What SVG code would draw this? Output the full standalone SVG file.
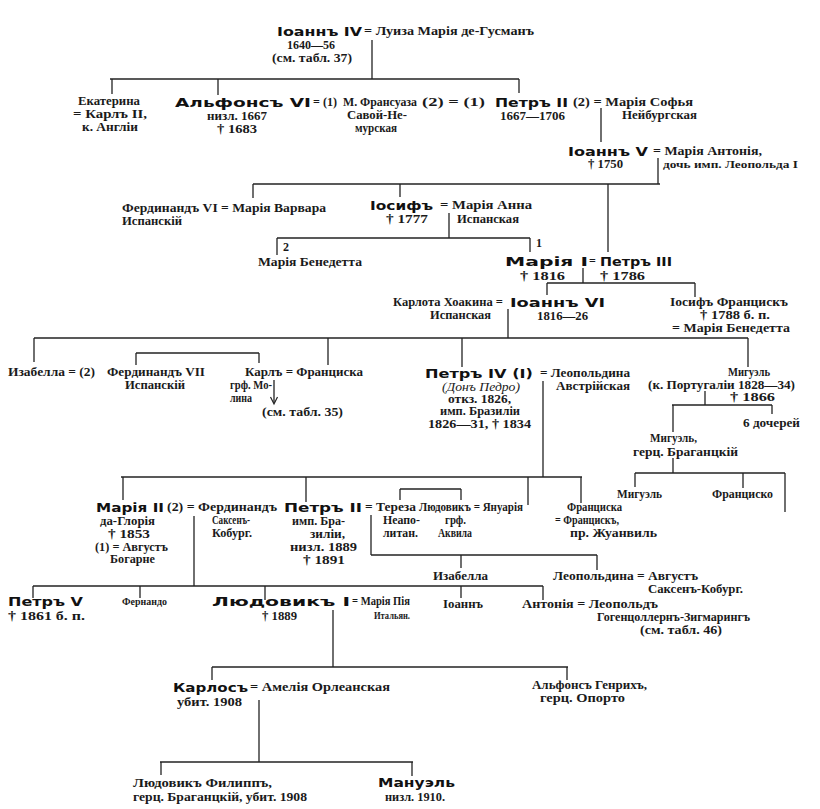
<svg xmlns="http://www.w3.org/2000/svg" width="820" height="809" viewBox="0 0 820 809">
<defs>
<style>
.s{font-family:"Liberation Serif","DejaVu Serif",serif;font-size:12px;font-weight:bold;fill:#1a1a1a}
.b{font-family:"DejaVu Sans","Liberation Sans",sans-serif;font-size:13px;font-weight:bold;fill:#111}
.sm{font-size:10.5px}
.i{font-style:italic;font-weight:normal}
#connectors line{stroke:#222;stroke-width:1.3;fill:none}
#connectors path{stroke:#222;stroke-width:1.2;fill:none}
</style>
</defs>
<rect width="820" height="809" fill="#fff"/>

<g id="connectors">
<line x1="372" y1="40" x2="372" y2="79"/>
<line x1="110" y1="79" x2="519" y2="79"/>
<line x1="112" y1="79" x2="112" y2="94"/>
<line x1="218" y1="79" x2="218" y2="95"/>
<line x1="519" y1="79" x2="519" y2="93"/>
<line x1="601" y1="108" x2="601" y2="142"/>
<line x1="658" y1="158" x2="658" y2="184"/>
<line x1="253" y1="184" x2="660" y2="184"/>
<line x1="253" y1="184" x2="253" y2="198"/>
<line x1="400" y1="184" x2="400" y2="197"/>
<line x1="608" y1="184" x2="608" y2="252"/>
<line x1="449" y1="213" x2="449" y2="238"/>
<line x1="277" y1="238" x2="530" y2="238"/>
<line x1="277" y1="238" x2="277" y2="255"/>
<line x1="530" y1="238" x2="530" y2="252"/>
<line x1="583" y1="268" x2="583" y2="283"/>
<line x1="547" y1="283" x2="695" y2="283"/>
<line x1="547" y1="283" x2="547" y2="295"/>
<line x1="695" y1="283" x2="695" y2="297"/>
<line x1="508" y1="309" x2="508" y2="338"/>
<line x1="34" y1="338" x2="748" y2="338"/>
<line x1="34" y1="338" x2="34" y2="362"/>
<line x1="328" y1="338" x2="328" y2="365"/>
<line x1="462" y1="338" x2="462" y2="367"/>
<line x1="748" y1="338" x2="748" y2="367"/>
<line x1="136" y1="353" x2="259" y2="353"/>
<line x1="136" y1="353" x2="136" y2="365"/>
<line x1="259" y1="353" x2="259" y2="363"/>
<line x1="274" y1="380" x2="274" y2="403"/>
<path d="M270.5,397 L274,404 L277.5,397"/>
<line x1="543" y1="381" x2="543" y2="477"/>
<line x1="705" y1="391" x2="705" y2="405"/>
<line x1="672" y1="405" x2="772" y2="405"/>
<line x1="673" y1="405" x2="673" y2="432"/>
<line x1="772" y1="405" x2="772" y2="414"/>
<line x1="673" y1="458" x2="673" y2="473"/>
<line x1="635" y1="473" x2="785" y2="473"/>
<line x1="635" y1="473" x2="635" y2="487"/>
<line x1="743" y1="473" x2="743" y2="488"/>
<line x1="785" y1="473" x2="785" y2="512"/>
<line x1="121" y1="477" x2="582" y2="477"/>
<line x1="123" y1="477" x2="123" y2="500"/>
<line x1="306" y1="477" x2="306" y2="502"/>
<line x1="528" y1="477" x2="528" y2="505"/>
<line x1="581" y1="477" x2="581" y2="503"/>
<line x1="400" y1="489" x2="461" y2="489"/>
<line x1="400" y1="489" x2="400" y2="500"/>
<line x1="461" y1="489" x2="461" y2="500"/>
<line x1="194" y1="516" x2="194" y2="586"/>
<line x1="371" y1="515" x2="371" y2="555"/>
<line x1="371" y1="555" x2="597" y2="555"/>
<line x1="461" y1="555" x2="461" y2="568"/>
<line x1="597" y1="555" x2="597" y2="570"/>
<line x1="33" y1="586" x2="543" y2="586"/>
<line x1="33" y1="586" x2="33" y2="598"/>
<line x1="140" y1="586" x2="140" y2="598"/>
<line x1="265" y1="586" x2="265" y2="600"/>
<line x1="461" y1="586" x2="461" y2="598"/>
<line x1="543" y1="586" x2="543" y2="600"/>
<line x1="333" y1="610" x2="333" y2="667"/>
<line x1="212" y1="667" x2="568" y2="667"/>
<line x1="212" y1="667" x2="212" y2="680"/>
<line x1="567" y1="667" x2="567" y2="680"/>
<line x1="259" y1="700" x2="259" y2="762"/>
<line x1="160" y1="762" x2="413" y2="762"/>
<line x1="161" y1="762" x2="161" y2="775"/>
<line x1="412" y1="762" x2="412" y2="776"/>
</g>

<g id="n-ioann4">
<text class="b" x="277" y="36" textLength="85" lengthAdjust="spacingAndGlyphs">Іоаннъ IV</text>
<text class="s" x="364" y="35" textLength="170" lengthAdjust="spacingAndGlyphs">= Луиза Марія де-Гусманъ</text>
<text class="s" x="287" y="49" textLength="48" lengthAdjust="spacingAndGlyphs">1640—56</text>
<text class="s" x="272" y="62" textLength="80" lengthAdjust="spacingAndGlyphs">(см. табл. 37)</text>
</g>

<g id="n-ekaterina">
<text class="s" x="78" y="105" textLength="62" lengthAdjust="spacingAndGlyphs">Екатерина</text>
<text class="s" x="73" y="118" textLength="74" lengthAdjust="spacingAndGlyphs">= Карлъ II,</text>
<text class="s" x="82" y="131" textLength="56" lengthAdjust="spacingAndGlyphs">к. Англіи</text>
</g>

<g id="n-alfons6">
<text class="b" x="175" y="107" textLength="136" lengthAdjust="spacingAndGlyphs">Альфонсъ VI</text>
<text class="s" x="313" y="106" textLength="24" lengthAdjust="spacingAndGlyphs">= (1)</text>
<text class="s" x="207" y="120" textLength="60" lengthAdjust="spacingAndGlyphs">низл. 1667</text>
<text class="s" x="217" y="133" textLength="40" lengthAdjust="spacingAndGlyphs">† 1683</text>
</g>

<g id="n-francoise">
<text class="s" x="343" y="106" textLength="74" lengthAdjust="spacingAndGlyphs">М. Франсуаза</text>
<text class="s" x="422" y="106" textLength="63" lengthAdjust="spacingAndGlyphs">(2) = (1)</text>
<text class="s" x="347" y="119" textLength="60" lengthAdjust="spacingAndGlyphs">Савой-Не-</text>
<text class="s" x="355" y="132" textLength="42" lengthAdjust="spacingAndGlyphs">мурская</text>
</g>

<g id="n-petr2">
<text class="b" x="495" y="107" textLength="73" lengthAdjust="spacingAndGlyphs">Петръ II</text>
<text class="s" x="573" y="106" textLength="120" lengthAdjust="spacingAndGlyphs">(2) = Марія Софья</text>
<text class="s" x="622" y="119" textLength="75" lengthAdjust="spacingAndGlyphs">Нейбургская</text>
<text class="s" x="500" y="120" textLength="65" lengthAdjust="spacingAndGlyphs">1667—1706</text>
</g>

<g id="n-ioann5">
<text class="b" x="568" y="156" textLength="80" lengthAdjust="spacingAndGlyphs">Іоаннъ V</text>
<text class="s" x="653" y="155" textLength="109" lengthAdjust="spacingAndGlyphs">= Марія Антонія,</text>
<text class="s" x="588" y="168" textLength="35" lengthAdjust="spacingAndGlyphs">† 1750</text>
<text class="s sm" x="663" y="168" textLength="135" lengthAdjust="spacingAndGlyphs">дочь имп. Леопольда I</text>
</g>

<g id="n-ferdinand6">
<text class="s" x="122" y="212" textLength="204" lengthAdjust="spacingAndGlyphs">Фердинандъ VI = Марія Варвара</text>
<text class="s" x="122" y="225" textLength="60" lengthAdjust="spacingAndGlyphs">Испанскій</text>
</g>

<g id="n-iosif">
<text class="b" x="370" y="210" textLength="63" lengthAdjust="spacingAndGlyphs">Іосифъ</text>
<text class="s" x="440" y="209" textLength="92" lengthAdjust="spacingAndGlyphs">= Марія Анна</text>
<text class="s" x="386" y="223" textLength="42" lengthAdjust="spacingAndGlyphs">† 1777</text>
<text class="s" x="457" y="223" textLength="62" lengthAdjust="spacingAndGlyphs">Испанская</text>
</g>

<g id="n-benedetta">
<text class="s" x="283" y="251">2</text>
<text class="s" x="258" y="266" textLength="104" lengthAdjust="spacingAndGlyphs">Марія Бенедетта</text>
</g>

<g id="n-maria1">
<text class="s" x="536" y="247">1</text>
<text class="b" x="505" y="266" textLength="83" lengthAdjust="spacingAndGlyphs">Марія I</text>
<text class="s" x="589" y="265">=</text>
<text class="b" x="600" y="266" textLength="72" lengthAdjust="spacingAndGlyphs">Петръ III</text>
<text class="s" x="520" y="280" textLength="45" lengthAdjust="spacingAndGlyphs">† 1816</text>
<text class="s" x="600" y="280" textLength="45" lengthAdjust="spacingAndGlyphs">† 1786</text>
</g>

<g id="n-ioann6">
<text class="s" x="393" y="306" textLength="110" lengthAdjust="spacingAndGlyphs">Карлота Хоакина =</text>
<text class="b" x="510" y="307" textLength="95" lengthAdjust="spacingAndGlyphs">Іоаннъ VI</text>
<text class="s" x="430" y="319" textLength="61" lengthAdjust="spacingAndGlyphs">Испанская</text>
<text class="s" x="537" y="320" textLength="51" lengthAdjust="spacingAndGlyphs">1816—26</text>
</g>

<g id="n-iosif-franc">
<text class="s" x="670" y="306" textLength="118" lengthAdjust="spacingAndGlyphs">Іосифъ Францискъ</text>
<text class="s" x="700" y="319" textLength="70" lengthAdjust="spacingAndGlyphs">† 1788 б. п.</text>
<text class="s" x="672" y="332" textLength="118" lengthAdjust="spacingAndGlyphs">= Марія Бенедетта</text>
</g>

<g id="n-izabella">
<text class="s" x="8" y="376" textLength="87" lengthAdjust="spacingAndGlyphs">Изабелла = (2)</text>
</g>

<g id="n-ferdinand7">
<text class="s" x="107" y="376" textLength="98" lengthAdjust="spacingAndGlyphs">Фердинандъ VII</text>
<text class="s" x="125" y="389" textLength="60" lengthAdjust="spacingAndGlyphs">Испанскій</text>
</g>

<g id="n-karl">
<text class="s" x="245" y="376" textLength="118" lengthAdjust="spacingAndGlyphs">Карлъ = Франциска</text>
<text class="s" x="230" y="389" textLength="42" lengthAdjust="spacingAndGlyphs">грф. Мо-</text>
<text class="s" x="230" y="402" textLength="22" lengthAdjust="spacingAndGlyphs">лина</text>
<text class="s" x="262" y="416" textLength="81" lengthAdjust="spacingAndGlyphs">(см. табл. 35)</text>
</g>

<g id="n-petr4">
<text class="b" x="425" y="378" textLength="108" lengthAdjust="spacingAndGlyphs">Петръ IV (I)</text>
<text class="s" x="540" y="377" textLength="90" lengthAdjust="spacingAndGlyphs">= Леопольдина</text>
<text class="s" x="556" y="390" textLength="74" lengthAdjust="spacingAndGlyphs">Австрійская</text>
<text class="s i" x="442" y="391" textLength="78" lengthAdjust="spacingAndGlyphs">(Донъ Педро)</text>
<text class="s" x="448" y="403" textLength="63" lengthAdjust="spacingAndGlyphs">откз. 1826,</text>
<text class="s" x="440" y="415" textLength="80" lengthAdjust="spacingAndGlyphs">имп. Бразиліи</text>
<text class="s" x="428" y="428" textLength="103" lengthAdjust="spacingAndGlyphs">1826—31, † 1834</text>
</g>

<g id="n-miguel">
<text class="s" x="728" y="376" textLength="42" lengthAdjust="spacingAndGlyphs">Мигуэль</text>
<text class="s" x="648" y="389" textLength="147" lengthAdjust="spacingAndGlyphs">(к. Португаліи 1828—34)</text>
<text class="s" x="730" y="401" textLength="45" lengthAdjust="spacingAndGlyphs">† 1866</text>
</g>

<g id="n-daughters">
<text class="s" x="743" y="427" textLength="57" lengthAdjust="spacingAndGlyphs">6 дочерей</text>
</g>

<g id="n-miguel-duke">
<text class="s" x="650" y="442" textLength="47" lengthAdjust="spacingAndGlyphs">Мигуэль,</text>
<text class="s" x="633" y="456" textLength="105" lengthAdjust="spacingAndGlyphs">герц. Браганцкій</text>
</g>

<g id="n-miguel-jr">
<text class="s" x="617" y="498" textLength="45" lengthAdjust="spacingAndGlyphs">Мигуэль</text>
</g>

<g id="n-francisco">
<text class="s" x="712" y="498" textLength="61" lengthAdjust="spacingAndGlyphs">Франциско</text>
</g>

<g id="n-maria2">
<text class="b" x="96" y="512" textLength="68" lengthAdjust="spacingAndGlyphs">Марія II</text>
<text class="s" x="167" y="511" textLength="110" lengthAdjust="spacingAndGlyphs">(2) = Фердинандъ</text>
<text class="s" x="100" y="525" textLength="55" lengthAdjust="spacingAndGlyphs">да-Глорія</text>
<text class="s" x="108" y="538" textLength="42" lengthAdjust="spacingAndGlyphs">† 1853</text>
<text class="s" x="95" y="551" textLength="73" lengthAdjust="spacingAndGlyphs">(1) = Августъ</text>
<text class="s" x="110" y="563" textLength="45" lengthAdjust="spacingAndGlyphs">Богарне</text>
<text class="s" x="212" y="524" textLength="38" lengthAdjust="spacingAndGlyphs">Саксенъ-</text>
<text class="s" x="212" y="537" textLength="40" lengthAdjust="spacingAndGlyphs">Кобург.</text>
</g>

<g id="n-petr2-brazil">
<text class="b" x="284" y="512" textLength="78" lengthAdjust="spacingAndGlyphs">Петръ II</text>
<text class="s" x="365" y="511" textLength="51" lengthAdjust="spacingAndGlyphs">= Тереза</text>
<text class="s" x="292" y="525" textLength="53" lengthAdjust="spacingAndGlyphs">имп. Бра-</text>
<text class="s" x="310" y="538" textLength="35" lengthAdjust="spacingAndGlyphs">зиліи,</text>
<text class="s" x="290" y="551" textLength="67" lengthAdjust="spacingAndGlyphs">низл. 1889</text>
<text class="s" x="303" y="564" textLength="42" lengthAdjust="spacingAndGlyphs">† 1891</text>
<text class="s" x="383" y="524" textLength="37" lengthAdjust="spacingAndGlyphs">Неапо-</text>
<text class="s" x="383" y="537" textLength="35" lengthAdjust="spacingAndGlyphs">литан.</text>
</g>

<g id="n-ludovik-aquila">
<text class="s" x="419" y="511" textLength="104" lengthAdjust="spacingAndGlyphs">Людовикъ = Януарія</text>
<text class="s" x="445" y="524" textLength="21" lengthAdjust="spacingAndGlyphs">грф.</text>
<text class="s" x="438" y="537" textLength="34" lengthAdjust="spacingAndGlyphs">Аквила</text>
</g>

<g id="n-franciska">
<text class="s" x="567" y="511" textLength="55" lengthAdjust="spacingAndGlyphs">Франциска</text>
<text class="s" x="555" y="524" textLength="64" lengthAdjust="spacingAndGlyphs">= Францискъ,</text>
<text class="s" x="570" y="537" textLength="87" lengthAdjust="spacingAndGlyphs">пр. Жуанвиль</text>
</g>

<g id="n-izabella-brazil">
<text class="s" x="433" y="580" textLength="55" lengthAdjust="spacingAndGlyphs">Изабелла</text>
</g>

<g id="n-leopoldina">
<text class="s" x="553" y="580" textLength="145" lengthAdjust="spacingAndGlyphs">Леопольдина = Августъ</text>
<text class="s" x="648" y="593" textLength="95" lengthAdjust="spacingAndGlyphs">Саксенъ-Кобург.</text>
</g>

<g id="n-petr5">
<text class="b" x="8" y="606" textLength="75" lengthAdjust="spacingAndGlyphs">Петръ V</text>
<text class="s" x="8" y="620" textLength="77" lengthAdjust="spacingAndGlyphs">† 1861 б. п.</text>
</g>

<g id="n-fernando">
<text class="s sm" x="122" y="605" textLength="45" lengthAdjust="spacingAndGlyphs">Фернандо</text>
</g>

<g id="n-ludovik1">
<text class="b" x="212" y="606" textLength="138" lengthAdjust="spacingAndGlyphs">Людовикъ I</text>
<text class="s" x="352" y="605" textLength="58" lengthAdjust="spacingAndGlyphs">= Марія Пія</text>
<text class="s sm" x="374" y="619" textLength="36" lengthAdjust="spacingAndGlyphs">Итальян.</text>
<text class="s" x="262" y="620" textLength="35" lengthAdjust="spacingAndGlyphs">† 1889</text>
</g>

<g id="n-ioann-beja">
<text class="s" x="443" y="608" textLength="40" lengthAdjust="spacingAndGlyphs">Іоаннъ</text>
</g>

<g id="n-antonia">
<text class="s" x="522" y="608" textLength="136" lengthAdjust="spacingAndGlyphs">Антонія = Леопольдъ</text>
<text class="s" x="597" y="621" textLength="153" lengthAdjust="spacingAndGlyphs">Гогенцоллернъ-Зигмарингъ</text>
<text class="s" x="640" y="634" textLength="82" lengthAdjust="spacingAndGlyphs">(см. табл. 46)</text>
</g>

<g id="n-carlos">
<text class="b" x="173" y="692" textLength="75" lengthAdjust="spacingAndGlyphs">Карлосъ</text>
<text class="s" x="250" y="691" textLength="140" lengthAdjust="spacingAndGlyphs">= Амелія Орлеанская</text>
<text class="s" x="177" y="706" textLength="65" lengthAdjust="spacingAndGlyphs">убит. 1908</text>
</g>

<g id="n-afonso">
<text class="s" x="532" y="689" textLength="115" lengthAdjust="spacingAndGlyphs">Альфонсъ Генрихъ,</text>
<text class="s" x="540" y="702" textLength="85" lengthAdjust="spacingAndGlyphs">герц. Опорто</text>
</g>

<g id="n-luis-filipe">
<text class="s" x="133" y="787" textLength="139" lengthAdjust="spacingAndGlyphs">Людовикъ Филиппъ,</text>
<text class="s" x="133" y="801" textLength="174" lengthAdjust="spacingAndGlyphs">герц. Браганцкій, убит. 1908</text>
</g>

<g id="n-manuel">
<text class="b" x="378" y="787" textLength="77" lengthAdjust="spacingAndGlyphs">Мануэль</text>
<text class="s" x="385" y="801" textLength="60" lengthAdjust="spacingAndGlyphs">низл. 1910.</text>
</g>
</svg>
